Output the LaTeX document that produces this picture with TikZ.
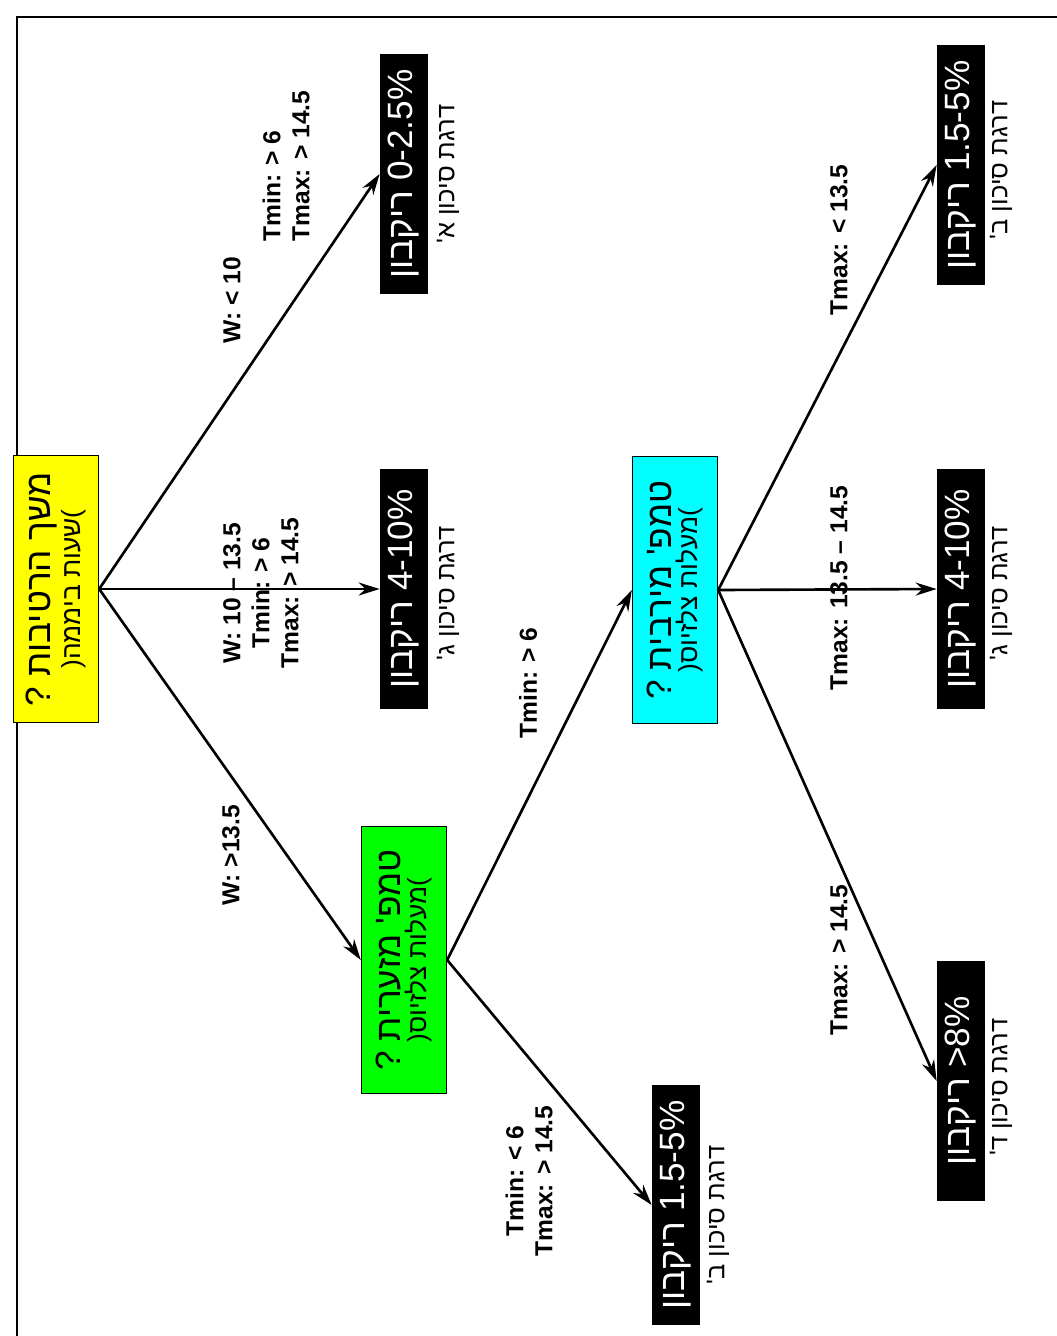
\documentclass[tikz,border=0pt]{standalone}
\usepackage{fontspec}
\setmainfont{Liberation Sans}
\newfontfamily\hebfont[Script=Hebrew]{Liberation Sans}
\TeXXeTstate=1
\usetikzlibrary{arrows.meta}
\definecolor{wetyellow}{RGB}{255,255,0}
\definecolor{mingreen}{RGB}{0,255,0}
\definecolor{maxcyan}{RGB}{0,255,255}

\begin{document}
\begin{tikzpicture}[
    x=0.02cm, y=-0.02cm,
    question/.style={rectangle, draw, line width=0.8pt, rotate=90, minimum width=5.34cm, minimum height=1.7cm, align=center, inner sep=0pt, font=\hebfont},
    result/.style={rectangle, fill=black, text=white, rotate=90, minimum width=4.8cm, minimum height=0.96cm, inner sep=0pt, font=\fontsize{20}{22}\selectfont},
    risk/.style={rotate=90, inner sep=0pt, font=\hebfont\fontsize{14.5}{17}\selectfont},
    cond/.style={rotate=90, align=center, inner sep=1pt, font=\bfseries\fontsize{14}{16.5}\selectfont},
    arrow/.style={-{Stealth[length=4.2mm, width=2.6mm]}, line width=1.5pt}
]
\useasboundingbox (0,0) rectangle (1057,1336);

% frame
\draw[line width=0.8pt] (17,1400) -- (17,17) -- (1100,17);

% Questions
\node[question, fill=wetyellow] (wet) at (56,589) {{\fontsize{20}{22}\selectfont\beginR משך הרטיבות ?\endR}\\[1pt]{\fontsize{15}{17}\selectfont(\beginR שעות ביממה\endR)}};
\node[question, fill=mingreen] (tmin) at (404,960) {{\fontsize{20}{22}\selectfont\beginR טמפ' מזערית ?\endR}\\[1pt]{\fontsize{15}{17}\selectfont(\beginR מעלות צלזיוס\endR)}};
\node[question, fill=maxcyan] (tmax) at (675,590) {{\fontsize{20}{22}\selectfont\beginR טמפ' מירבית ?\endR}\\[1pt]{\fontsize{15}{17}\selectfont(\beginR מעלות צלזיוס\endR)}};

% Results
\node[result] (ra) at (404,174) {{\hebfont\beginR ריקבון\endR}\ 0-2.5\%};
\node[result] (rc) at (404,589) {{\hebfont\beginR ריקבון\endR}\ 4-10\%};
\node[result] (rb) at (676,1205) {{\hebfont\beginR ריקבון\endR}\ 1.5-5\%};
\node[result] (rb2) at (961,165) {{\hebfont\beginR ריקבון\endR}\ 1.5-5\%};
\node[result] (rc2) at (961,589) {{\hebfont\beginR ריקבון\endR}\ 4-10\%};
\node[result] (rd) at (961,1081) {{\hebfont\beginR ריקבון\endR}\ >8\%};

% Risk levels
\node[risk] (ka) at (448,174) {\beginR דרגת סיכון א'\endR};
\node[risk] (kc) at (448,593) {\beginR דרגת סיכון ג'\endR};
\node[risk] (kb) at (718,1215) {\beginR דרגת סיכון ב'\endR};
\node[risk] (kb2) at (1001,170) {\beginR דרגת סיכון ב'\endR};
\node[risk] (kc2) at (1001,593) {\beginR דרגת סיכון ג'\endR};
\node[risk] (kd) at (1001,1087) {\beginR דרגת סיכון ד'\endR};

% Conditions
\node[cond] (c1) at (232,300) {W: < 10};
\node[cond, align=left] (c2) at (286,166) {Tmin: > 6\\Tmax: > 14.5};
\node[cond] (c3) at (261,593) {W: 10 -- 13.5\\Tmin: > 6\\Tmax: > 14.5};
\node[cond] (c4) at (231,855) {W: >13.5};
\node[cond] (c5) at (528,683) {Tmin: > 6};
\node[cond] (c6) at (529,1181) {Tmin: < 6\\Tmax: > 14.5};
\node[cond] (c7) at (839,240) {Tmax: < 13.5};
\node[cond] (c8) at (839,588) {Tmax: 13.5 -- 14.5};
\node[cond] (c9) at (839,960) {Tmax: > 14.5};

% Arrows
\draw[arrow] (wet.south) -- (ra.north);
\draw[arrow] (wet.south) -- (rc.north);
\draw[arrow] (wet.south) -- (tmin.north);
\draw[arrow] (tmin.south) -- (tmax.north);
\draw[arrow] (tmin.south) -- (rb.north);
\draw[arrow] (tmax.south) -- (rb2.north);
\draw[arrow] (tmax.south) -- (rc2.north);
\draw[arrow] (tmax.south) -- (rd.north);

\end{tikzpicture}
\end{document}
